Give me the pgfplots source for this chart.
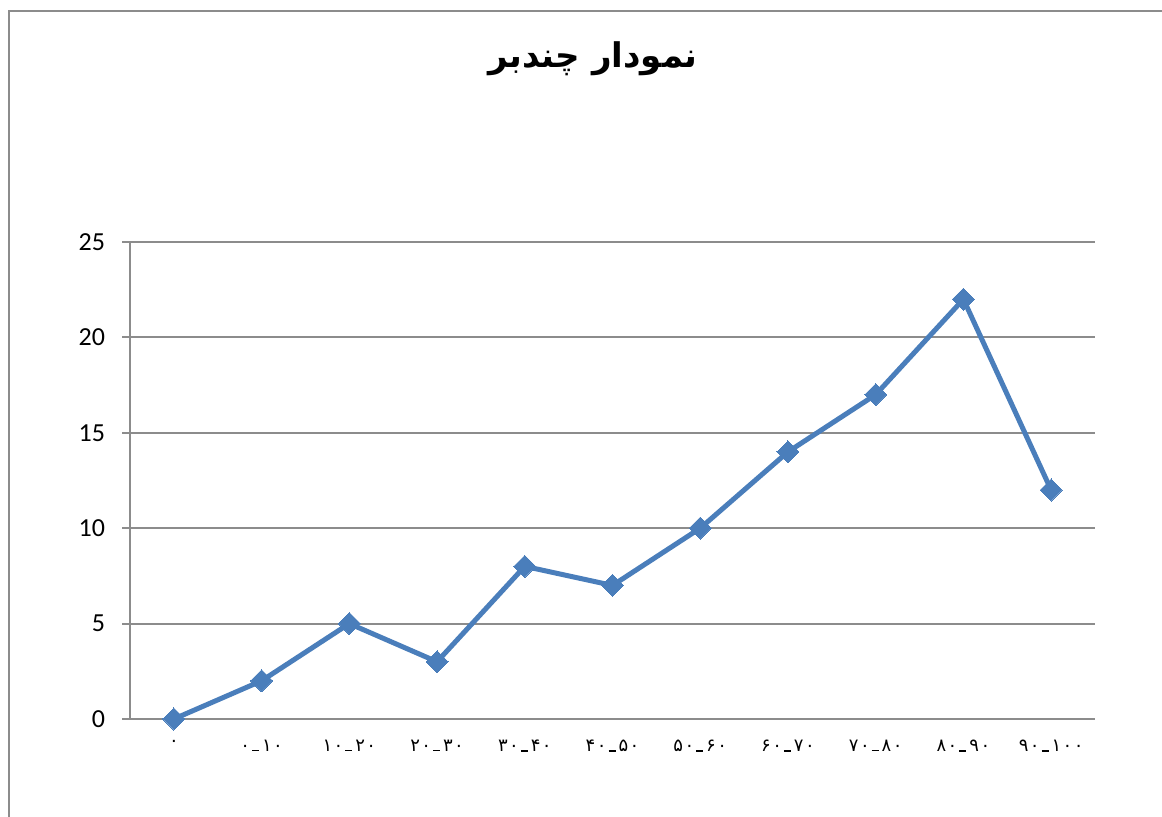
\documentclass[border=0pt]{standalone}
\usepackage{fontspec}
\setmainfont{Carlito}
\newfontfamily\fa[Script=Arabic]{DejaVu Sans}
\newfontfamily\fadigits[Script=Arabic, LetterSpace=8]{DejaVu Sans}
\TeXXeTstate=1
\usepackage{pgfplots}
\pgfplotsset{compat=1.18}
\definecolor{lineblue}{HTML}{4A7EBB}
\definecolor{gridgray}{HTML}{8C8C8C}
% low dash between the two ends of a range
\newcommand{\rng}[2]{\beginL #1\kern1pt\rule{3.5pt}{0.6pt}\kern1.5pt#2\endL}

\begin{document}
\begin{tikzpicture}[x=1pt,y=1pt]
  % 1px = 0.5pt, picture 1162x817 px
  \useasboundingbox (0,0) rectangle (581,408.5);
  \draw[gridgray, line width=1pt] (4.5,-5) -- (4.5,403) -- (590,403);
  \node[font=\fa\bfseries\fontsize{17}{19}\selectfont] at (296.5,379) {\beginR نمودار چندبر\endR};
  \begin{axis}[
    scale only axis,
    width=482.5pt, height=238.5pt,
    at={(65pt,49pt)}, anchor=south west,
    xmin=-0.5, xmax=10.5,
    ymin=0, ymax=25,
    ytick={0,5,...,25},
    xtick={0,...,10},
    xticklabels={
      ۰,
      \rng{۰}{۱۰},
      \rng{۱۰}{۲۰},
      \rng{۲۰}{۳۰},
      \rng{۳۰}{۴۰},
      \rng{۴۰}{۵۰},
      \rng{۵۰}{۶۰},
      \rng{۶۰}{۷۰},
      \rng{۷۰}{۸۰},
      \rng{۸۰}{۹۰},
      \rng{۹۰}{۱۰۰}},
    xticklabel style={font=\fadigits\fontsize{9}{11}\selectfont, yshift=-3pt},
    yticklabel style={font=\fontsize{13}{15}\selectfont, xshift=-5pt},
    /pgf/number format/assume math mode=true,
    xtick style={draw=none},
    minor xtick={-0.5,0.5,...,10.5},
    tick align=outside,
    major tick length=4pt,
    minor tick length=4pt,
    every tick/.style={gridgray, line width=1pt},
    minor tick style={gridgray, line width=1pt},
    axis lines*=left,
    axis line style={gridgray, line width=1pt},
    ymajorgrids,
    major grid style={gridgray, line width=1pt},
    clip=false,
  ]
    \addplot[lineblue, line width=2.5pt, mark=square*, mark size=3.9pt,
      mark options={rotate=45, solid, fill=lineblue, draw=lineblue, line width=0pt}]
      coordinates {(0,0) (1,2) (2,5) (3,3) (4,8) (5,7) (6,10) (7,14) (8,17) (9,22) (10,12)};
  \end{axis}
\end{tikzpicture}
\end{document}
